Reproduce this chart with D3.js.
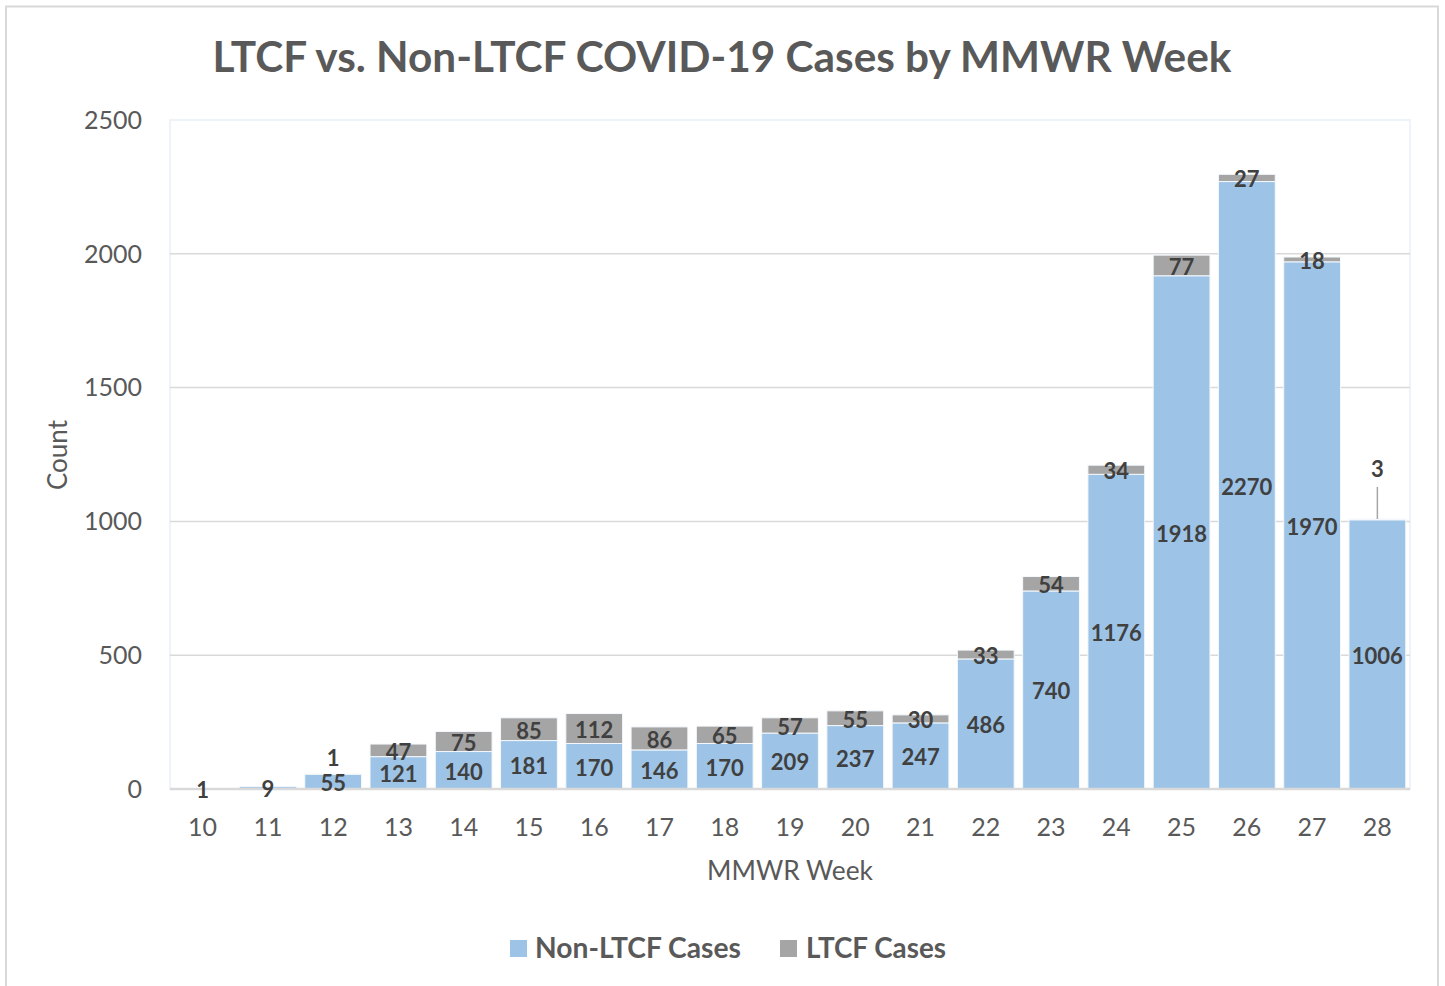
<!DOCTYPE html>
<html>
<head>
<meta charset="utf-8">
<script src="https://cdn.jsdelivr.net/npm/d3@7"></script>
<style>
  html, body { margin: 0; padding: 0; background: #fff; }
  svg text { font-family: Lato, "Open Sans", sans-serif; }
</style>
</head>
<body>
<svg id="chart" width="1445" height="986"></svg>
<script>
const title = "LTCF vs. Non-LTCF COVID-19 Cases by MMWR Week";
const weeks = ["10","11","12","13","14","15","16","17","18","19","20","21","22","23","24","25","26","27","28"];
const nonLtcf = [1, 9, 55, 121, 140, 181, 170, 146, 170, 209, 237, 247, 486, 740, 1176, 1918, 2270, 1970, 1006];
const ltcf    = [0, 0, 1, 47, 75, 85, 112, 86, 65, 57, 55, 30, 33, 54, 34, 77, 27, 18, 3];
const seriesNames = ["Non-LTCF Cases", "LTCF Cases"];
const yTicks = [0, 500, 1000, 1500, 2000, 2500];
const xTitle = "MMWR Week";
const yTitle = "Count";

const colors = ["#9DC3E6", "#A5A5A5"];
const svg = d3.select("#chart");

// outer frame
svg.append("rect").attr("x", 6).attr("y", 6.5).attr("width", 1432).attr("height", 1000)
  .attr("fill", "#fff").attr("stroke", "#D9D9D9").attr("stroke-width", 2);

const plot = {left: 170, right: 1410, top: 120, bottom: 789};
const x = d3.scaleBand().domain(weeks).range([plot.left, plot.right])
  .paddingInner(0.13).paddingOuter(0.065);
const y = d3.scaleLinear().domain([0, 2500]).range([plot.bottom, plot.top]);

// plot area faint border
svg.append("rect").attr("x", plot.left).attr("y", plot.top)
  .attr("width", plot.right - plot.left).attr("height", plot.bottom - plot.top)
  .attr("fill", "none").attr("stroke", "#EEF3FA").attr("stroke-width", 2);

// gridlines
svg.append("g").selectAll("line").data(yTicks.filter(t => t > 0 && t < 2500)).join("line")
  .attr("x1", plot.left).attr("x2", plot.right)
  .attr("y1", d => y(d)).attr("y2", d => y(d))
  .attr("stroke", "#D9D9D9").attr("stroke-width", 1.5);

// y tick labels
svg.append("g").selectAll("text").data(yTicks).join("text")
  .attr("x", 142).attr("y", d => y(d)).attr("dy", "0.35em")
  .attr("text-anchor", "end").attr("font-size", 25).attr("fill", "#595959")
  .text(d => d);

// stacked data
const rows = weeks.map((w, i) => ({week: w, nonLtcf: nonLtcf[i], ltcf: ltcf[i]}));
const stack = d3.stack().keys(["nonLtcf", "ltcf"])(rows);

const bars = svg.append("g");
stack.forEach((layer, li) => {
  bars.append("g").selectAll("rect").data(layer).join("rect")
    .attr("x", d => x(d.data.week))
    .attr("width", x.bandwidth())
    .attr("y", d => y(d[1]))
    .attr("height", d => Math.max(0, y(d[0]) - y(d[1])))
    .attr("fill", colors[li])
    .attr("stroke", "#F4F8FC").attr("stroke-width", 1);
});

// x axis line
svg.append("line").attr("x1", plot.left).attr("x2", plot.right)
  .attr("y1", plot.bottom).attr("y2", plot.bottom)
  .attr("stroke", "#D9D9D9").attr("stroke-width", 2.5);

// x tick labels
svg.append("g").selectAll("text").data(weeks).join("text")
  .attr("x", d => x(d) + x.bandwidth() / 2).attr("y", 836)
  .attr("text-anchor", "middle").attr("font-size", 25).attr("fill", "#595959")
  .text(d => d);

// data labels
const labels = svg.append("g").attr("font-weight", "bold").attr("font-size", 22).attr("fill", "#404040");
stack.forEach((layer, li) => {
  layer.forEach(d => {
    const v = d[1] - d[0];
    if (v <= 0) return;
    const cx = x(d.data.week) + x.bandwidth() / 2;
    let cy = (y(d[0]) + y(d[1])) / 2 + 1.5;
    if (li === 1 && v < 5) {
      // small labels manually moved above the bar (as in the source)
      const top = y(d[1]);
      const lift = d[1] > 500 ? 50 : 16;
      cy = top - lift;
      if (lift > 30) {
        svg.append("line").attr("x1", cx).attr("x2", cx)
          .attr("y1", top).attr("y2", cy + 18)
          .attr("stroke", "#A6A6A6").attr("stroke-width", 1.5);
      }
    }
    labels.append("text").attr("x", cx).attr("y", cy).attr("dy", "0.36em")
      .attr("text-anchor", "middle").text(v);
  });
});

// title
function fit(sel, w) {
  const cur = sel.node().getComputedTextLength();
  const fs = parseFloat(sel.attr("font-size"));
  sel.attr("font-size", fs * w / cur);
}
const t = svg.append("text").attr("x", 722).attr("y", 72).attr("text-anchor", "middle")
  .attr("font-size", 40).attr("font-weight", "bold").attr("fill", "#595959").text(title);
fit(t, 1019);

// axis titles
const xt = svg.append("text").attr("x", 790).attr("y", 880).attr("text-anchor", "middle")
  .attr("font-size", 24).attr("fill", "#595959").text(xTitle);
fit(xt, 166);
const yt = svg.append("text").attr("transform", "translate(67,455) rotate(-90)")
  .attr("text-anchor", "middle").attr("font-size", 24).attr("fill", "#595959").text(yTitle);
fit(yt, 70);

// legend
const legendItems = [
  {name: seriesNames[0], color: colors[0], sx: 510, tx: 535, w: 206},
  {name: seriesNames[1], color: colors[1], sx: 780, tx: 806, w: 140}
];
legendItems.forEach(it => {
  svg.append("rect").attr("x", it.sx).attr("y", 940).attr("width", 17).attr("height", 17).attr("fill", it.color);
  const lt = svg.append("text").attr("x", it.tx).attr("y", 958)
    .attr("font-size", 25).attr("font-weight", "bold").attr("fill", "#595959").text(it.name);
  fit(lt, it.w);
});
</script>
</body>
</html>
